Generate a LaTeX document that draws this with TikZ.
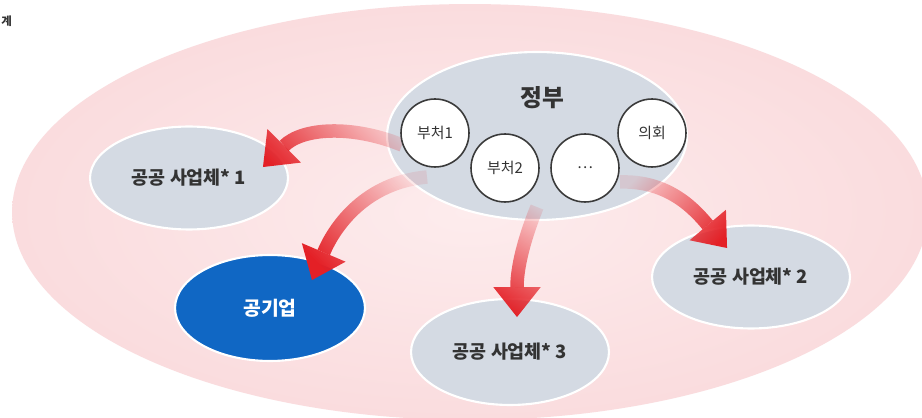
\documentclass[tikz,border=0pt]{standalone}
\usepackage{fontspec}
\setmainfont{Noto Sans CJK KR}
\usetikzlibrary{arrows.meta,calc,fadings,shapes.geometric}

\definecolor{zonecore}{RGB}{253,236,237}
\definecolor{zoneedge}{RGB}{250,220,222}
\definecolor{bubblegray}{RGB}{212,218,227}
\definecolor{corpblue}{RGB}{16,103,196}
\definecolor{inkgray}{RGB}{51,51,51}
\definecolor{linegray}{RGB}{58,58,58}
\definecolor{flowred}{RGB}{228,32,38}

\tikzfading[name=fade shaft,
  left color=transparent!90,
  right color=transparent!0]

\begin{document}
\begin{tikzpicture}[x=0.02cm,y=0.02cm]

\tikzset{
  zonefill/.style={
    inner color=zonecore,
    outer color=zoneedge
  },
  bubble/.style={
    ellipse,
    fill=bubblegray,
    draw=white,
    line width=1.2pt,
    inner sep=0pt,
    text=inkgray,
    font=\bfseries\fontsize{10.5}{12}\selectfont
  },
  govbubble/.style={
    bubble,
    minimum width=6cm,
    minimum height=3.36cm
  },
  entbubble/.style={
    bubble,
    minimum width=3.96cm,
    minimum height=2.06cm
  },
  corpbubble/.style={
    entbubble,
    fill=corpblue,
    text=white,
    font=\bfseries\fontsize{11}{13}\selectfont
  },
  depttitle/.style={
    text=inkgray,
    font=\bfseries\fontsize{13.5}{15}\selectfont
  },
  deptcircle/.style={
    circle,
    fill=white,
    draw=linegray,
    line width=0.9pt,
    minimum size=1.36cm,
    inner sep=0pt,
    text=inkgray,
    font=\fontsize{8.5}{10}\selectfont
  },
  flowarrow/.style={
    draw=flowred,
    line width=0.27cm,
    -{Triangle[length=0.6cm,width=0.95cm,line width=0pt]},
    path fading=fade shaft
  },
  captionfrag/.style={
    text=inkgray,
    inner sep=0pt,
    font=\bfseries\fontsize{6.5}{8}\selectfont
  }
}

% Page frame
\useasboundingbox (0,0) rectangle (922,-418);
\fill[white] (0,0) rectangle (922,-418);

% Caption fragment at the left edge
\node[captionfrag, anchor=west] (capfrag) at (1,-21) {계};

%%%%%%%%%%%%%%%%%%%%%%%%%%%%%%%%%%%%%%%%%%%%%%%%%%%%%%%%%%%%
%% Public sector zone
%%%%%%%%%%%%%%%%%%%%%%%%%%%%%%%%%%%%%%%%%%%%%%%%%%%%%%%%%%%%
\shade[zonefill] (470,-212) ellipse [x radius=9.16cm, y radius=4.16cm];

% Entities under the government
\node[entbubble] (ent1) at (189,-178) {공공 사업체* 1};
\node[entbubble] (ent2) at (751,-277) {공공 사업체* 2};
\node[entbubble, minimum height=2.12cm] (ent3) at (510,-352) {공공 사업체* 3};
\node[corpbubble, minimum width=3.8cm, minimum height=2.12cm] (corp) at (270,-308) {공기업};

% Government
\node[govbubble] (gov) at (537,-136) {};
\node[depttitle] (govtitle) at (542,-98) {정부};

%%%%%%%%%%%%%%%%%%%%%%%%%%%%%%%%%%%%%%%%%%%%%%%%%%%%%%%%%%%%
%% Flows from the government
%%%%%%%%%%%%%%%%%%%%%%%%%%%%%%%%%%%%%%%%%%%%%%%%%%%%%%%%%%%%

% Start and end points
\coordinate (s1) at ($(gov.center)+(-135,-9)$);
\coordinate (s2) at ($(gov.center)+(-110,-41)$);
\coordinate (s3) at ($(gov.center)+(0,-71)$);
\coordinate (s4) at ($(gov.center)+(83,-46)$);
\coordinate (tip1) at ($(ent1.center)+(74,11)$);
\coordinate (tip2) at ($(corp.center)+(42,28)$);
\coordinate (tip3) at ($(ent3.center)+(7,35)$);
\coordinate (tip4) at ($(ent2.center)+(-24,29)$);

\draw[flowarrow, fading angle=200] (s1) to[out=158,in=45] (tip1);
\draw[flowarrow, fading angle=222] (s2) to[out=185,in=67] (tip2);
\draw[flowarrow, fading angle=260] (s3) to[out=248,in=90] (tip3);
\draw[flowarrow, fading angle=-32] (s4) to[out=2,in=130] (tip4);

% Ministries and assembly
\foreach \nm/\px/\py/\txt in {dept1/435/-133/부처1,
                              dept2/505/-168/부처2,
                              deptmore/585/-168/⋯,
                              council/652/-133/의회}{
  \node[deptcircle] (\nm) at (\px,\py) {\txt};
}

\end{tikzpicture}
\end{document}
